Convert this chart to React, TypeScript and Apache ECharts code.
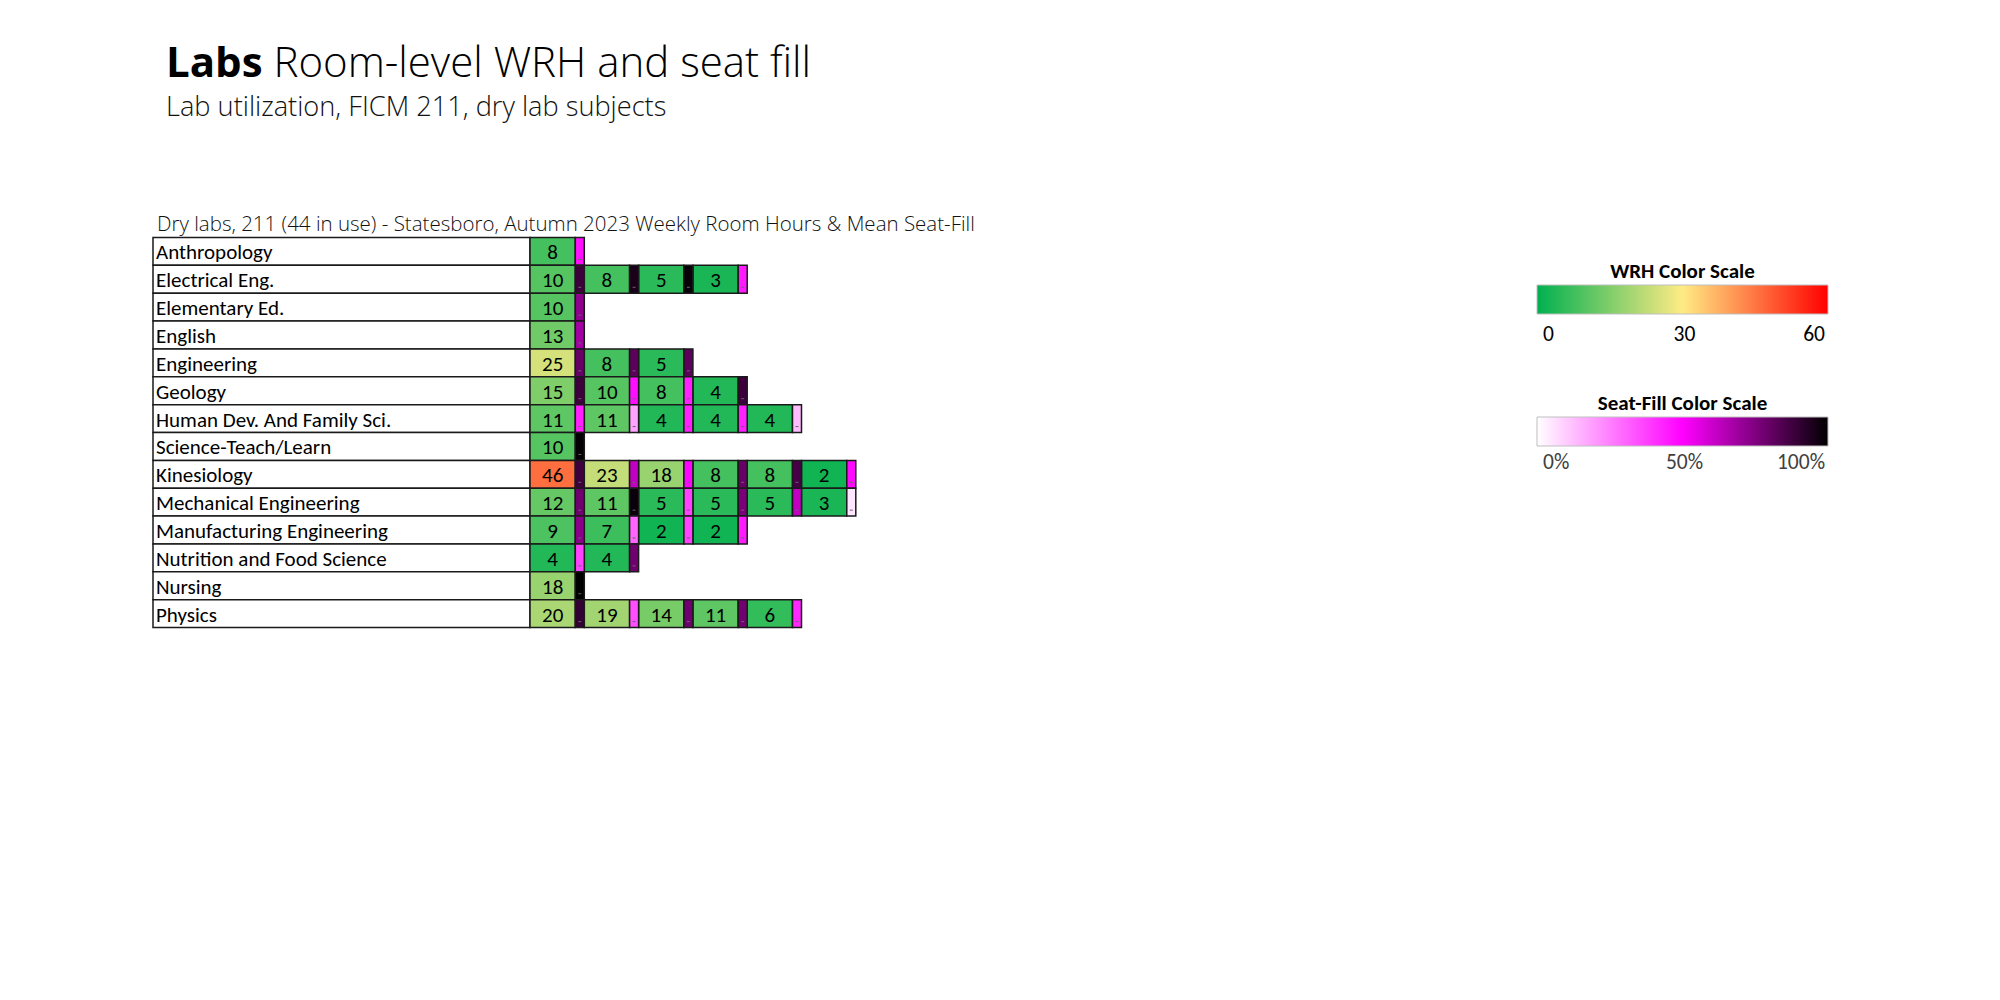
import React, { useEffect, useRef } from "react";
import * as echarts from "echarts";

// ---------- data ----------
const subjects = [
  "Anthropology",
  "Electrical Eng.",
  "Elementary Ed.",
  "English",
  "Engineering",
  "Geology",
  "Human Dev. And Family Sci.",
  "Science-Teach/Learn",
  "Kinesiology",
  "Mechanical Engineering",
  "Manufacturing Engineering",
  "Nutrition and Food Science",
  "Nursing",
  "Physics",
];

// weekly room hours per room (one entry per room, in order)
const wrhValues: number[][] = [
  [8],
  [10, 8, 5, 3],
  [10],
  [13],
  [25, 8, 5],
  [15, 10, 8, 4],
  [11, 11, 4, 4, 4],
  [10],
  [46, 23, 18, 8, 8, 2],
  [12, 11, 5, 5, 5, 3],
  [9, 7, 2, 2],
  [4, 4],
  [18],
  [20, 19, 14, 11, 6],
];

// mean seat fill (%) per room (estimated from colours)
const seatFillValues: number[][] = [
  [47],
  [88, 95, 98, 45],
  [72],
  [68],
  [80, 82, 82],
  [88, 47, 44, 88],
  [44, 18, 44, 44, 13],
  [99],
  [88, 62, 49, 80, 86, 48],
  [78, 98, 37, 76, 62, 5],
  [73, 30, 37, 45],
  [37, 78],
  [100],
  [90, 35, 78, 78, 42],
];

const wrhColors = ["#00B050", "#FFEB84", "#FF0000"];
const seatFillColors = ["#FFFFFF", "#FF00FF", "#000000"];
const wrhRange = [0, 60];
const seatFillRange = [0, 100];
const wrhTicks = ["0", "30", "60"];
const seatFillTicks = ["0%", "50%", "100%"];

const titleBold = "Labs";
const titleRest = " Room-level WRH and seat fill";
const subtitle = "Lab utilization, FICM 211, dry lab subjects";
const tableCaption =
  "Dry labs, 211 (44 in use) - Statesboro, Autumn 2023 Weekly Room Hours & Mean Seat-Fill";
const wrhLegendTitle = "WRH Color Scale";
const seatFillLegendTitle = "Seat-Fill Color Scale";

// ---------- layout ----------
const MAX_ROOMS = 6;
const PAIR_PX = 54.3;
const LABEL_PX = 377;
const LABEL_UNITS = LABEL_PX / PAIR_PX;
const WRH_W = 45.3 / PAIR_PX;
const SF_W = 1 - WRH_W;
const GRID_LEFT = 153;
const GRID_TOP = 237.5;
const ROW_H = 27.86;

const SANS = '"Segoe UI", "Open Sans", "Noto Sans", sans-serif';
const CELL_FONT = 'Calibri, Carlito, Lato, "Open Sans", sans-serif';

export default function App() {
  const ref = useRef<HTMLDivElement>(null);

  useEffect(() => {
    if (!ref.current) return;
    const chart = echarts.init(ref.current, undefined, { renderer: "svg" });

    const labelData = subjects.map((_, i) => [-LABEL_UNITS, i]);
    const wrhData: number[][] = [];
    const sfData: number[][] = [];
    wrhValues.forEach((rooms, i) => {
      rooms.forEach((v, k) => {
        wrhData.push([k, i, v]);
        sfData.push([k + WRH_W, i, seatFillValues[i][k]]);
      });
    });

    const stops = (cols: string[]) =>
      cols.map((c, i) => ({ offset: i / (cols.length - 1), color: c }));

    const legend = (
      top: number,
      title: string,
      cols: string[],
      ticks: string[],
      tickColor: string,
      tickGap: number
    ) => {
      const left = 1537;
      const w = 291;
      const h = 29;
      return [
        {
          type: "text",
          x: left + w / 2,
          y: top - 14,
          style: {
            text: title,
            align: "center",
            verticalAlign: "middle",
            fontSize: 21,
            fontWeight: "bold",
            fontFamily: CELL_FONT,
            fill: "#000",
          },
        },
        {
          type: "rect",
          shape: { x: left, y: top, width: w, height: h },
          style: {
            fill: new echarts.graphic.LinearGradient(0, 0, 1, 0, stops(cols)),
            stroke: "#bfbfbf",
            lineWidth: 1,
          },
        },
        ...ticks.map((t, i) => ({
          type: "text",
          x: i === 0 ? left + 6 : i === ticks.length - 1 ? left + w - 3 : left + w / 2 + 2,
          y: top + h + tickGap,
          style: {
            text: t,
            align: i === 0 ? "left" : i === ticks.length - 1 ? "right" : "center",
            verticalAlign: "middle",
            fontSize: 21.5,
            fontFamily: CELL_FONT,
            fill: tickColor,
          },
        })),
      ];
    };

    const option: any = {
      animation: false,
      backgroundColor: "#ffffff",
      grid: {
        left: GRID_LEFT,
        top: GRID_TOP,
        width: LABEL_PX + MAX_ROOMS * PAIR_PX,
        height: ROW_H * subjects.length,
      },
      xAxis: { type: "value", min: -LABEL_UNITS, max: MAX_ROOMS, show: false },
      yAxis: { type: "category", data: subjects, inverse: true, show: false },
      visualMap: [
        {
          type: "continuous",
          show: false,
          seriesIndex: 1,
          dimension: 2,
          min: wrhRange[0],
          max: wrhRange[1],
          inRange: { color: wrhColors },
        },
        {
          type: "continuous",
          show: false,
          seriesIndex: 2,
          dimension: 2,
          min: seatFillRange[0],
          max: seatFillRange[1],
          inRange: { color: seatFillColors },
        },
      ],
      graphic: [
        {
          type: "text",
          x: 166,
          y: 60,
          style: {
            text: `{b|${titleBold}}{r|${titleRest}}`,
            verticalAlign: "middle",
            rich: {
              b: { fontSize: 42, fontWeight: "bold", fontFamily: SANS, fill: "#000" },
              r: { fontSize: 42, fontWeight: 300, fontFamily: SANS, fill: "#000" },
            },
          },
        },
        {
          type: "text",
          x: 166,
          y: 105,
          style: {
            text: subtitle,
            verticalAlign: "middle",
            fontSize: 27.2,
            fontWeight: 300,
            fontFamily: SANS,
            fill: "#111",
          },
        },
        {
          type: "text",
          x: 157,
          y: 223,
          style: {
            text: tableCaption,
            verticalAlign: "middle",
            fontSize: 20.5,
            fontWeight: 300,
            fontFamily: SANS,
            fill: "#111",
          },
        },
        ...legend(285, wrhLegendTitle, wrhColors, wrhTicks, "#000", 20),
        ...legend(417, seatFillLegendTitle, seatFillColors, seatFillTicks, "#404040", 16),
      ],
      series: [
        {
          type: "custom",
          encode: { x: 0, y: 1 },
          data: labelData,
          renderItem: (params: any, api: any) => {
            const row = api.value(1);
            const [x, yc] = api.coord([api.value(0), row]);
            const w = api.size([LABEL_UNITS, 0])[0];
            const h = api.size([0, 1])[1];
            return {
              type: "group",
              children: [
                {
                  type: "rect",
                  shape: { x, y: yc - h / 2, width: w, height: h },
                  style: { fill: "#fff", stroke: "#1a1a1a", lineWidth: 1.5 },
                },
                {
                  type: "text",
                  style: {
                    text: subjects[row],
                    x: x + 3,
                    y: yc + 1,
                    align: "left",
                    verticalAlign: "middle",
                    fontSize: 21,
                    fontFamily: CELL_FONT,
                    fill: "#000",
                  },
                },
              ],
            };
          },
        },
        {
          type: "custom",
          encode: { x: 0, y: 1 },
          data: wrhData,
          renderItem: (params: any, api: any) => {
            const [x, yc] = api.coord([api.value(0), api.value(1)]);
            const w = api.size([WRH_W, 0])[0];
            const h = api.size([0, 1])[1];
            return {
              type: "group",
              children: [
                {
                  type: "rect",
                  shape: { x, y: yc - h / 2, width: w, height: h },
                  style: { fill: api.visual("color"), stroke: "#1a1a1a", lineWidth: 1.5 },
                },
                {
                  type: "text",
                  style: {
                    text: String(api.value(2)),
                    x: x + w / 2,
                    y: yc + 1,
                    align: "center",
                    verticalAlign: "middle",
                    fontSize: 21,
                    fontFamily: CELL_FONT,
                    fill: "#000",
                  },
                },
              ],
            };
          },
        },
        {
          type: "custom",
          encode: { x: 0, y: 1 },
          data: sfData,
          renderItem: (params: any, api: any) => {
            const [x, yc] = api.coord([api.value(0), api.value(1)]);
            const w = api.size([SF_W, 0])[0];
            const h = api.size([0, 1])[1];
            return {
              type: "group",
              children: [
                {
                  type: "rect",
                  shape: { x, y: yc - h / 2, width: w, height: h },
                  style: { fill: api.visual("color"), stroke: "#1a1a1a", lineWidth: 1.5 },
                },
                {
                  type: "line",
                  shape: { x1: x + w / 2 - 1.5, y1: yc + 8, x2: x + w / 2 + 1.5, y2: yc + 8 },
                  style: { stroke: "#666", lineWidth: 1 },
                },
              ],
            };
          },
        },
      ],
    };

    chart.setOption(option);
    return () => chart.dispose();
  }, []);

  return (
    <div
      ref={ref}
      style={{ position: "fixed", left: 0, top: 0, width: 2000, height: 1000 }}
    />
  );
}
